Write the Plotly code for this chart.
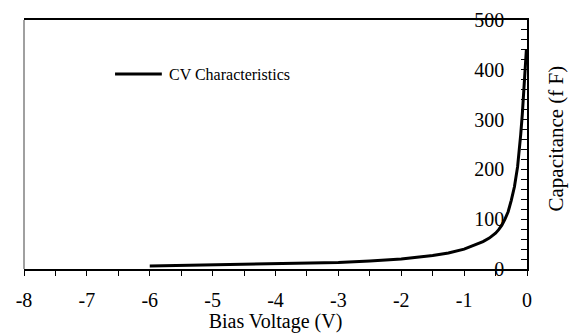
import plotly.graph_objects as go

# Bias voltage (V) and capacitance (fF)
bias_v = [-6.0, -5.0, -4.0, -3.0, -2.5, -2.0, -1.5, -1.25, -1.0, -0.8, -0.7,
          -0.6, -0.5, -0.45, -0.4, -0.35, -0.3, -0.25, -0.2, -0.15, -0.125,
          -0.1, -0.075, -0.05, -0.03, -0.01]
cap_ff = [6, 8, 10, 13, 16, 20, 27, 32, 40, 49, 55,
          62, 72, 79, 88, 100, 115, 138, 165, 205, 232,
          270, 310, 360, 400, 440]
series_name = "CV Characteristics"
x_ticks = [-8, -7, -6, -5, -4, -3, -2, -1, 0]
y_ticks = [0, 100, 200, 300, 400, 500]

FONT = "Liberation Serif, Times New Roman, serif"

fig = go.Figure()
fig.add_trace(go.Scatter(
    x=bias_v, y=cap_ff, mode="lines", name=series_name,
    line=dict(color="black", width=3),
    showlegend=False,
))

fig.update_layout(
    width=569, height=333,
    margin=dict(l=24, r=42, t=20, b=64, autoexpand=False),
    paper_bgcolor="white", plot_bgcolor="white",
    font=dict(family=FONT, color="black", size=20),
    xaxis=dict(
        range=[-8, 0], tickvals=x_ticks, ticktext=[str(v) for v in x_ticks],
        ticks="outside", ticklen=5, tickcolor="black", tickwidth=1,
        minor=dict(dtick=0.5, ticks="outside", ticklen=5, tickcolor="black"),
        ticklabelstandoff=7, automargin=False,
        showline=True, linecolor="black", linewidth=1.5, mirror=True,
        showgrid=False, zeroline=False,
        tickfont=dict(size=20, color="black", family=FONT),
        title=dict(text="Bias Voltage (V)", font=dict(size=20), standoff=5),
    ),
    yaxis=dict(
        range=[0, 500], tickvals=y_ticks, side="right",
        ticks="inside", ticklen=6, tickcolor="black", tickwidth=1,
        minor=dict(dtick=20, ticks="inside", ticklen=6, tickcolor="black",
                   tickwidth=1),
        ticklabelposition="inside", ticklabelstandoff=18,
        ticklabeloverflow="allow", automargin=False,
        showline=True, linecolor="black", linewidth=1.5,
        showgrid=False, zeroline=False,
        tickfont=dict(size=20, color="black", family=FONT),
    ),
    shapes=[
        dict(type="line", xref="paper", yref="paper", x0=0, x1=0, y0=0, y1=1,
             line=dict(color="#808080", width=1.5)),
        dict(type="line", xref="paper", yref="paper", x0=0.181, x1=0.274,
             y0=0.783, y1=0.783, line=dict(color="black", width=3)),
    ],
    annotations=[
        dict(text=series_name, xref="paper", yref="paper", x=0.284, y=0.783,
             xanchor="left", yanchor="middle", showarrow=False,
             font=dict(size=16, family=FONT, color="black")),
        dict(text="Capacitance (f F)", xref="paper", yref="paper",
             x=1, y=0.5, xshift=28, yshift=6, textangle=-90,
             xanchor="center", yanchor="middle", showarrow=False,
             font=dict(size=21, family=FONT, color="black")),
    ],
)

fig.write_html("out.html")
